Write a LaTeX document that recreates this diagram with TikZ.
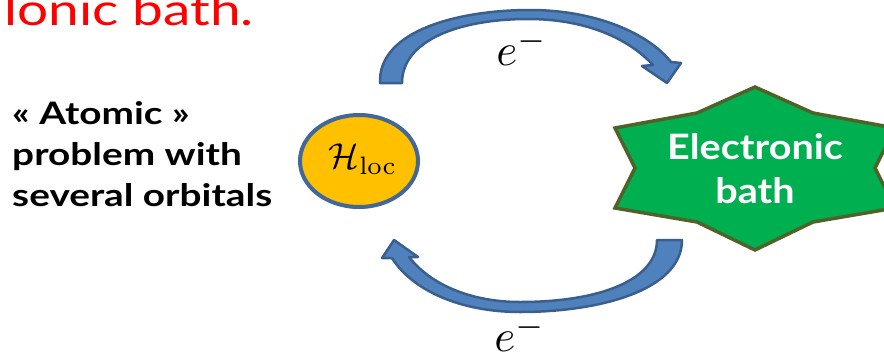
\documentclass[tikz,border=0pt]{standalone}
\usepackage[no-math]{fontspec}
\setmainfont{Lato}
\usetikzlibrary{shapes.geometric}
\definecolor{arrowfill}{HTML}{4F81BD}
\definecolor{arrowline}{HTML}{3A5F8E}
\definecolor{gold}{HTML}{FFC000}
\definecolor{circline}{HTML}{41679B}
\definecolor{starfill}{HTML}{00B050}
\definecolor{starline}{HTML}{4F6228}
\begin{document}
\begin{tikzpicture}[x=1pt,y=-1pt,
  fatarrow/.style={fill=arrowfill, draw=arrowline, line width=2.5pt, line join=round},
  mathlbl/.style={inner sep=0pt, scale=4.5}]
\clip (0,0) rectangle (884,354);
\useasboundingbox (0,0) rectangle (884,354);

% title (cut at top)
\node[anchor=base west, inner sep=0pt, text=red, xscale=1.25, font=\fontsize{44}{50}\selectfont] (title) at (4,25) {lonic bath.};

% left text
\node[anchor=north west, inner sep=0pt, align=left, xscale=1.25, font=\bfseries\fontsize{31}{41}\selectfont] (atomic) at (12,101)
  {« Atomic »\\problem with\\several orbitals};

% local hamiltonian
\node[ellipse, draw=circline, fill=gold, line width=4pt, minimum width=118pt, minimum height=92pt, inner sep=0pt] (hloc) at (359,161) {};
\node[inner sep=0pt, scale=3.6] (hlbl) at (363,159) {$\mathcal{H}_{\mathrm{loc}}$};

% electronic bath star
\draw[fill=starfill, draw=starline, line width=3.5pt, line join=miter]
  (755,87) -- (813,113) -- (895,128) -- (875,168) -- (895,208) -- (813,222) --
  (755,250) -- (697,222) -- (615,208) -- (635,168) -- (615,128) -- (697,113) -- cycle;
\node[inner sep=0pt, align=center, text=white, xscale=1.13, font=\bfseries\fontsize{35}{44}\selectfont] (bath) at (755,169) {Electronic\\bath};

% top arrow
\draw[fatarrow]
  (380,83) .. controls (378,30) and (460,10) .. (530,10)
  .. controls (595,10) and (648,33) .. (671,62)
  -- (681,63) -- (667,83) -- (642,66) -- (653,65)
  .. controls (628,38) and (585,19) .. (528,19)
  .. controls (460,19) and (402,40) .. (402,83) -- cycle;
\node[mathlbl] (etop) at (522,48) {$e^-$};

% bottom arrow
\draw[fatarrow]
  (682,240) .. controls (682,290) and (600,312) .. (520,312)
  .. controls (460,312) and (412,290) .. (392,258)
  -- (382,258) -- (394,240) -- (418,257) -- (409,257)
  .. controls (430,284) and (470,302) .. (520,302)
  .. controls (600,302) and (657,280) .. (657,240) -- cycle;
\node[mathlbl] (ebot) at (520,334) {$e^-$};
\end{tikzpicture}
\end{document}
